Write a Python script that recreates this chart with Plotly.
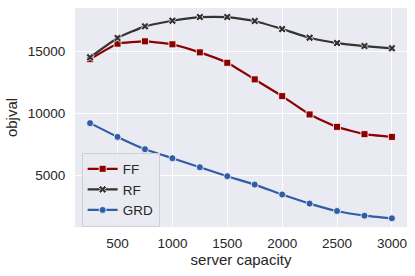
import plotly.graph_objects as go

capacity = [250, 500, 750, 1000, 1250, 1500, 1750, 2000, 2250, 2500, 2750, 3000]
ff = [14400, 15650, 15840, 15600, 14950, 14110, 12770, 11420, 9940, 8940, 8350, 8130]
rf = [14550, 16110, 17050, 17500, 17800, 17800, 17480, 16830, 16130, 15700, 15460, 15280]
grd = [9240, 8130, 7140, 6410, 5680, 4960, 4280, 3480, 2750, 2150, 1775, 1560]
x_ticks = [500, 1000, 1500, 2000, 2500, 3000]
y_ticks = [5000, 10000, 15000]

series = [
    ("FF", ff, "#8B0000", "square", 7),
    ("RF", rf, "#333333", "x", 7),
    ("GRD", grd, "#2F5DA6", "circle", 7),
]

fig = go.Figure()
for name, vals, color, sym, size in series:
    fig.add_trace(go.Scatter(
        x=capacity, y=vals, name=name, mode="lines+markers",
        line=dict(color=color, width=2.2, shape="spline", smoothing=0.4),
        marker=dict(symbol=sym, size=size, color=color,
                    line=dict(color="white", width=0.8)),
    ))

font = "Liberation Sans, Arial, sans-serif"
fig.update_layout(
    width=415, height=276,
    margin=dict(l=75, r=8, t=8, b=49),
    paper_bgcolor="white", plot_bgcolor="#EAEAF2",
    font=dict(family=font, size=13.5, color="#262626"),
    showlegend=True,
    legend=dict(x=0.02, y=0.34, xanchor="left", yanchor="top",
                bgcolor="rgba(234,234,242,0.85)", bordercolor="#CFCFD6", borderwidth=1,
                font=dict(size=13.5, color="#262626"), itemwidth=30,
                tracegroupgap=0, entrywidth=78, entrywidthmode="pixels"),
    xaxis=dict(range=[112.5, 3137.5], tickvals=x_ticks, ticktext=[str(v) for v in x_ticks],
               gridcolor="white", gridwidth=1.2, zeroline=False, showline=False,
               ticks="outside", ticklen=4, tickcolor="rgba(0,0,0,0)",
               ticklabeloverflow="allow",
               title=dict(text="server capacity", font=dict(size=15), standoff=4)),
    yaxis=dict(range=[860, 18530], tickvals=y_ticks, ticktext=[str(v) for v in y_ticks],
               gridcolor="white", gridwidth=1.2, zeroline=False, showline=False,
               ticks="outside", ticklen=6, tickcolor="rgba(0,0,0,0)",
               title=dict(text="objval", font=dict(size=15), standoff=6)),
)

fig.write_html("out.html", config={"displayModeBar": False},
               post_script="document.body.style.margin='0';")
